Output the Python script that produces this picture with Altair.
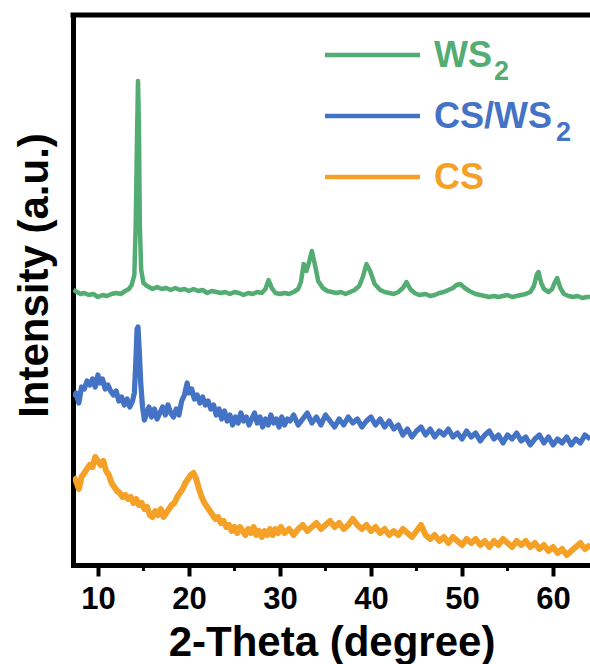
import altair as alt
import pandas as pd

# ---------------- data (2-theta in degrees, intensity in a.u.) ----------------
ws2_x = [7.3, 7.7, 8.1, 8.5, 9.0, 9.5, 10.0, 10.5, 11.0, 11.5,
         12.0, 12.5, 13.0, 13.4, 13.7, 14.0, 14.15, 14.3, 14.4, 14.5,
         14.6, 14.75, 15.0, 15.4, 16.0, 16.5, 17.0, 17.5, 18.0, 18.5,
         19.0, 19.5, 20.0, 20.5, 21.0, 21.5, 22.0, 22.5, 23.0, 23.5,
         24.0, 24.5, 25.0, 25.5, 26.0, 26.5, 27.0, 27.5, 28.0, 28.4,
         28.75, 29.1, 29.5, 30.0, 30.5, 31.0, 31.5, 32.0, 32.3, 32.6,
         32.9, 33.2, 33.5, 33.8, 34.2, 34.7, 35.2, 35.7, 36.2, 36.7,
         37.2, 37.7, 38.2, 38.7, 39.1, 39.5, 39.9, 40.4, 41.0, 41.5,
         42.0, 42.5, 43.0, 43.5, 43.9, 44.3, 44.8, 45.3, 46.0, 46.5,
         47.0, 47.5, 48.0, 48.5, 49.0, 49.4, 49.8, 50.3, 50.8, 51.5,
         52.0, 52.5, 53.0, 53.5, 54.0, 54.5, 55.0, 55.5, 56.0, 56.5,
         57.0, 57.5, 57.9, 58.2, 58.4, 58.7, 59.0, 59.5, 59.9, 60.2,
         60.45, 60.8, 61.2, 61.7, 62.2, 62.7, 63.2, 63.7, 64.1]
ws2_y = [275, 273, 271, 272, 270, 271, 268, 270, 269, 271,
         272, 271, 274, 276, 280, 290, 340, 430, 484, 440,
         340, 295, 282, 279, 276, 278, 276, 277, 275, 277,
         275, 276, 274, 276, 274, 275, 272, 274, 273, 272,
         273, 271, 273, 272, 270, 272, 271, 273, 272, 276,
         285, 277, 272, 271, 272, 271, 273, 276, 283, 301,
         294, 303, 314, 302, 284, 277, 274, 273, 272, 273,
         271, 273, 275, 279, 288, 301, 294, 281, 275, 273,
         272, 271, 273, 277, 283, 276, 272, 270, 271, 269,
         270, 272, 273, 275, 277, 280, 281, 277, 274, 271,
         270, 269, 268, 269, 268, 269, 270, 268, 269, 270,
         271, 273, 279, 290, 293, 282, 276, 273, 276, 283,
         287, 277, 271, 269, 268, 269, 267, 268, 268]

csws2_x = [7.3, 7.6, 7.9, 8.2, 8.5, 8.8, 9.1, 9.4, 9.7, 10.0,
           10.2, 10.5, 10.8, 11.1, 11.4, 11.7, 12.0, 12.3, 12.6, 12.9,
           13.2, 13.5, 13.8, 14.0, 14.15, 14.3, 14.4, 14.55, 14.7, 14.9,
           15.1, 15.3, 15.6, 15.9, 16.2, 16.5, 16.8, 17.1, 17.4, 17.7,
           18.0, 18.3, 18.6, 18.9, 19.2, 19.5, 19.8, 20.0, 20.3, 20.6,
           20.9, 21.2, 21.5, 21.8, 22.1, 22.4, 22.7, 23.0, 23.3, 23.6,
           23.9, 24.2, 24.5, 24.8, 25.1, 25.4, 25.7, 26.0, 26.3, 26.6,
           26.9, 27.2, 27.5, 27.8, 28.1, 28.4, 28.7, 29.0, 29.3, 29.6,
           29.9, 30.2, 30.5, 30.8, 31.1, 31.5, 32.0, 32.5, 33.0, 33.5,
           34.0, 34.5, 35.0, 35.5, 36.0, 36.5, 37.0, 37.5, 38.0, 38.5,
           39.0, 39.5, 40.0, 40.5, 41.0, 41.5, 42.0, 42.5, 43.0, 43.5,
           44.0, 44.5, 45.0, 45.5, 46.0, 46.5, 47.0, 47.5, 48.0, 48.5,
           49.0, 49.5, 50.0, 50.5, 51.0, 51.5, 52.0, 52.5, 53.0, 53.5,
           54.0, 54.5, 55.0, 55.5, 56.0, 56.5, 57.0, 57.5, 58.0, 58.5,
           59.0, 59.5, 60.0, 60.5, 61.0, 61.5, 62.0, 62.5, 63.0, 63.5, 64.1]
csws2_y = [168, 172, 162, 178, 176, 184, 180, 186, 178, 190,
           182, 186, 176, 180, 174, 170, 174, 164, 168, 160,
           166, 158, 164, 172, 200, 236, 238, 212, 182, 158,
           145, 150, 158, 148, 156, 146, 152, 158, 150, 160,
           152, 148, 156, 150, 164, 170, 182, 172, 176, 166,
           170, 162, 168, 160, 164, 156, 160, 150, 156, 146,
           154, 144, 150, 140, 148, 142, 152, 144, 148, 140,
           146, 152, 142, 148, 138, 146, 140, 150, 142, 146,
           138, 148, 140, 146, 144, 150, 140, 146, 152, 142,
           148, 140, 150, 144, 138, 146, 140, 148, 142, 146,
           138, 144, 148, 140, 146, 138, 144, 136, 140, 130,
           136, 128, 134, 138, 130, 136, 128, 134, 130, 136,
           128, 132, 126, 134, 128, 132, 124, 130, 134, 126,
           130, 122, 130, 126, 132, 124, 128, 120, 126, 130,
           122, 128, 120, 126, 122, 128, 120, 126, 122, 130, 126]

cs_x = [7.3, 7.6, 7.9, 8.2, 8.5, 8.8, 9.1, 9.4, 9.7, 10.0,
        10.3, 10.6, 10.9, 11.2, 11.5, 11.8, 12.1, 12.4, 12.7, 13.0,
        13.3, 13.6, 13.9, 14.2, 14.5, 14.8, 15.1, 15.4, 15.7, 16.0,
        16.3, 16.6, 16.9, 17.2, 17.5, 17.8, 18.1, 18.4, 18.7, 19.0,
        19.3, 19.6, 19.9, 20.2, 20.5, 20.8, 21.1, 21.4, 21.7, 22.0,
        22.3, 22.6, 22.9, 23.2, 23.5, 23.8, 24.1, 24.4, 24.7, 25.0,
        25.3, 25.6, 25.9, 26.2, 26.5, 26.8, 27.1, 27.4, 27.7, 28.0,
        28.3, 28.6, 28.9, 29.2, 29.5, 29.8, 30.1, 30.5, 31.0, 31.5,
        32.0, 32.5, 33.0, 33.5, 34.0, 34.5, 35.0, 35.5, 36.0, 36.5,
        37.0, 37.5, 38.0, 38.5, 39.0, 39.5, 40.0, 40.5, 41.0, 41.5,
        42.0, 42.5, 43.0, 43.5, 44.0, 44.5, 45.0, 45.5, 46.0, 46.5,
        47.0, 47.5, 48.0, 48.5, 49.0, 49.5, 50.0, 50.5, 51.0, 51.5,
        52.0, 52.5, 53.0, 53.5, 54.0, 54.5, 55.0, 55.5, 56.0, 56.5,
        57.0, 57.5, 58.0, 58.5, 59.0, 59.5, 60.0, 60.5, 61.0, 61.5,
        62.0, 62.5, 63.0, 63.5, 64.1]
cs_y = [88, 84, 76, 88, 92, 96, 100, 98, 108, 104,
        100, 104, 94, 90, 82, 78, 74, 72, 68, 70,
        66, 68, 62, 66, 60, 62, 56, 58, 50, 48,
        54, 50, 56, 48, 52, 56, 60, 62, 68, 72,
        76, 82, 86, 90, 92, 86, 76, 68, 62, 58,
        54, 50, 46, 48, 42, 44, 38, 40, 34, 38,
        32, 38, 34, 30, 36, 32, 38, 30, 34, 28,
        34, 30, 36, 30, 36, 32, 38, 32, 36, 30,
        36, 40, 34, 38, 42, 36, 40, 44, 38, 42,
        36, 40, 46, 40, 36, 40, 34, 38, 32, 36,
        30, 34, 30, 36, 32, 28, 34, 40, 30, 26,
        30, 24, 28, 22, 28, 24, 20, 26, 22, 26,
        20, 24, 18, 24, 20, 26, 22, 18, 24, 20,
        24, 18, 22, 16, 20, 14, 18, 12, 16, 10,
        14, 18, 22, 16, 20]

series_names = ["WS2", "CS/WS2", "CS"]
legend_main = ["WS", "CS/WS", "CS"]
legend_sub = ["2", "2", ""]
colors = ["#53AD73", "#4472C4", "#F5A027"]
line_widths = [4.5, 6, 6]
major_ticks = [10, 20, 30, 40, 50, 60]
minor_ticks = [15, 25, 35, 45, 55]

X_DOMAIN = [7.26, 64.06]
Y_DOMAIN = [0, 550]
W, H = 517, 550
FONT = "Liberation Sans"

frames = []
for name, xs, ys in [("WS2", ws2_x, ws2_y), ("CS/WS2", csws2_x, csws2_y), ("CS", cs_x, cs_y)]:
    frames.append(pd.DataFrame({"theta": xs, "intensity": ys, "series": name, "idx": range(len(xs))}))
df = pd.concat(frames, ignore_index=True)

xscale = alt.Scale(domain=X_DOMAIN, nice=False, zero=False)
yscale = alt.Scale(domain=Y_DOMAIN, nice=False, zero=False)

lines = alt.Chart(df).mark_line(clip=True, strokeJoin="round").encode(
    x=alt.X("theta:Q", scale=xscale,
            axis=alt.Axis(values=major_ticks, title="2-Theta (degree)", grid=False,
                          domainWidth=5, domainColor="black", domainCap="square",
                          tickWidth=4, tickSize=11, tickColor="black",
                          labelFont=FONT, labelFontSize=31, labelFontWeight="bold",
                          labelColor="black", labelBaseline="alphabetic", labelPadding=32,
                          titleFont=FONT, titleFontSize=42, titleFontWeight="bold",
                          titleColor="black", titleBaseline="alphabetic", titleY=90)),
    y=alt.Y("intensity:Q", scale=yscale,
            axis=alt.Axis(ticks=False, labels=False, grid=False, title="Intensity (a.u.)",
                          domainWidth=5, domainColor="black", domainCap="square",
                          titleFont=FONT, titleFontSize=42, titleFontWeight="bold",
                          titleColor="black", titleBaseline="alphabetic",
                          titleX=-26, titleY=260, titleAngle=-90)),
    color=alt.Color("series:N", scale=alt.Scale(domain=series_names, range=colors), legend=None),
    size=alt.Size("series:N", scale=alt.Scale(domain=series_names, range=line_widths), legend=None),
    detail="series:N",
    order="idx:Q",
)

minor = alt.Chart(pd.DataFrame({"t": minor_ticks})).mark_rule(strokeWidth=3, color="black").encode(
    x=alt.X("t:Q", scale=xscale),
    y=alt.value(H),
    y2=alt.value(H + 6),
)

top_border = alt.Chart(pd.DataFrame({"a": [0]})).mark_rule(strokeWidth=5, color="black", strokeCap="square").encode(
    x=alt.value(0), x2=alt.value(W + 5), y=alt.value(0)
)

layers = [lines, minor, top_border]
leg_y = [40, 101, 162]
sub_x = [421, 483, None]
for i in range(3):
    src = alt.Chart(pd.DataFrame({"a": [0]}))
    layers.append(src.mark_rule(strokeWidth=4.5, color=colors[i]).encode(
        x=alt.value(252), x2=alt.value(347), y=alt.value(leg_y[i])))
    layers.append(src.mark_text(text=legend_main[i], font=FONT, fontSize=36, fontWeight="bold",
                                color=colors[i], align="left", baseline="alphabetic").encode(
        x=alt.value(361), y=alt.value(leg_y[i] + 12)))
    if legend_sub[i]:
        layers.append(src.mark_text(text=legend_sub[i], font=FONT, fontSize=27, fontWeight="bold",
                                    color=colors[i], align="left", baseline="alphabetic").encode(
            x=alt.value(sub_x[i]), y=alt.value(leg_y[i] + 25)))

chart = alt.layer(*layers).properties(
    width=W, height=H,
    autosize=alt.AutoSizeParams(type="none"),
    padding={"left": 73, "top": 15, "right": 0, "bottom": 99},
    background="white",
).configure_view(stroke=None)

chart.save("out.html", embed_options={"renderer": "svg", "actions": False})
